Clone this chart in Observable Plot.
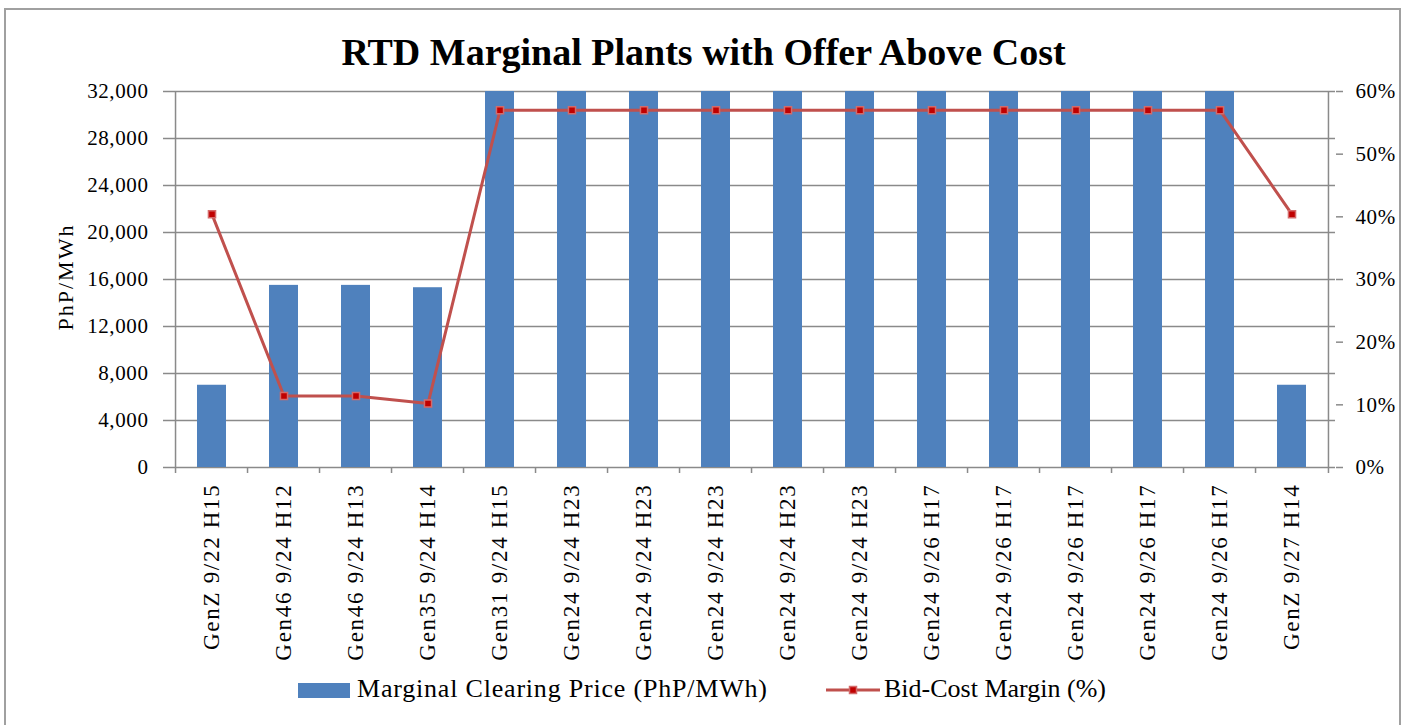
<!DOCTYPE html>
<html>
<head>
<meta charset="utf-8">
<script src="https://cdn.jsdelivr.net/npm/d3@7"></script>
<script src="https://cdn.jsdelivr.net/npm/@observablehq/plot@0.6"></script>
<style>
  body { margin: 0; background: #fff; }
  #wrap { position: relative; width: 1407px; height: 725px; overflow: hidden; font-family: "Liberation Serif", serif; }
  #border { position: absolute; left: 4px; top: 8px; width: 1397px; height: 740px; border: 2px solid #a0a0a0; box-sizing: border-box; }
  #title { position: absolute; left: 0; top: 33px; width: 1407px; text-align: center; font-size: 38px; line-height: 38px; font-weight: bold; color: #000; }
  #ylabel { position: absolute; left: 66px; top: 277px; transform: translate(-50%, -50%) rotate(-90deg); font-size: 22px; letter-spacing: 2px; white-space: nowrap; color: #000; }
  #chart { position: absolute; left: 0; top: 0; }
  .legtext { position: absolute; font-size: 26px; line-height: 26px; white-space: nowrap; color: #000; }
</style>
</head>
<body>
<div id="wrap">
  <div id="border"></div>
  <div id="chart"></div>
  <div id="title">RTD Marginal Plants with Offer Above Cost</div>
  <div id="ylabel">PhP/MWh</div>
  <div id="legend"></div>
</div>
<script>
// ---- data ----
const categories = [
  "GenZ 9/22 H15", "Gen46 9/24 H12", "Gen46 9/24 H13", "Gen35 9/24 H14",
  "Gen31 9/24 H15", "Gen24 9/24 H23", "Gen24 9/24 H23", "Gen24 9/24 H23",
  "Gen24 9/24 H23", "Gen24 9/24 H23", "Gen24 9/26 H17", "Gen24 9/26 H17",
  "Gen24 9/26 H17", "Gen24 9/26 H17", "Gen24 9/26 H17", "GenZ 9/27 H14"
];
const clearingPrice = [7000, 15500, 15500, 15300, 32000, 32000, 32000, 32000, 32000, 32000, 32000, 32000, 32000, 32000, 32000, 7000];
const bidCostMargin = [40.4, 11.4, 11.4, 10.2, 57, 57, 57, 57, 57, 57, 57, 57, 57, 57, 57, 40.4];
const priceTicks = [0, 4000, 8000, 12000, 16000, 20000, 24000, 28000, 32000];
const pctTicks = [0, 10, 20, 30, 40, 50, 60];
const seriesNames = ["Marginal Clearing Price (PhP/MWh)", "Bid-Cost Margin (%)"];

// ---- layout ----
const W = 1407, H = 725, ML = 168, MR = 72, MT = 91, MB = 258;
const yMax = 32000, pctMax = 60;
const plotW = W - ML - MR, plotH = H - MT - MB;
const step = plotW / categories.length;
const tickLen = 6 * yMax / plotH;
const toY = p => p / pctMax * yMax;

const rows = categories.map((c, i) => ({i, label: c, price: clearingPrice[i], margin: bidCostMargin[i]}));
const idx = d3.range(categories.length);
const gridColor = "#8a8a8a";

const chart = Plot.plot({
  width: W, height: H,
  marginLeft: ML, marginRight: MR, marginTop: MT, marginBottom: MB,
  style: {fontFamily: "Liberation Serif", fontSize: "21px", color: "#000", background: "transparent", overflow: "visible"},
  x: {type: "band", domain: idx, paddingInner: 0.6, paddingOuter: 0.3, axis: null},
  y: {domain: [0, yMax], axis: null},
  marks: [
    Plot.ruleY(priceTicks, {stroke: gridColor, strokeWidth: 1.5}),
    Plot.barY(rows, {x: "i", y: "price", fill: "#4F81BD"}),
    // frame sides
    Plot.ruleX([0], {x: d => d, dx: -step / 2, y1: -tickLen, y2: yMax, stroke: gridColor, strokeWidth: 1.5}),
    Plot.ruleX([idx.length - 1], {x: d => d, dx: step / 2, y1: -tickLen, y2: yMax, stroke: gridColor, strokeWidth: 1.5}),
    // category boundary ticks
    Plot.ruleX(idx.slice(1), {x: d => d, dx: -step / 2, y1: 0, y2: -tickLen, stroke: gridColor, strokeWidth: 1.5}),
    Plot.line(rows, {x: "i", y: d => toY(d.margin), stroke: "#C0504D", strokeWidth: 3}),
    Plot.dot(rows, {x: "i", y: d => toY(d.margin), symbol: "square", r: 4, fill: "#C00000", stroke: "#D46A6A", strokeWidth: 1.5}),
    Plot.axisY({anchor: "left", ticks: priceTicks, tickFormat: d3.format(","), tickSize: 5, tickPadding: 15,
      stroke: gridColor, strokeWidth: 1.5, fill: "#000", label: null, fontSize: 21}),
    Plot.axisY({anchor: "right", ticks: pctTicks.map(toY), tickFormat: d => Math.round(d / yMax * pctMax) + "%",
      tickSize: 7, tickPadding: 13, stroke: gridColor, strokeWidth: 1.5, fill: "#000", label: null, fontSize: 21}),
    Plot.axisX({anchor: "bottom", tickRotate: -90, tickSize: 0, tickPadding: 16, tickFormat: i => categories[i],
      label: null, fontSize: 23, fill: "#000"})
  ]
});
d3.select(chart).selectAll("text").style("letter-spacing", "0.6px");
d3.select(chart).selectAll("g[aria-label='x-axis tick label'] text").style("letter-spacing", "1.7px");
document.getElementById("chart").appendChild(chart);

// ---- legend ----
const legend = document.getElementById("legend");
legend.innerHTML = `
  <div style="position:absolute;left:298px;top:683px;width:52px;height:15px;background:#4F81BD"></div>
  <div class="legtext" style="left:357px;top:676px;letter-spacing:0.8px">${seriesNames[0]}</div>
  <svg style="position:absolute;left:825px;top:682px" width="56" height="16">
    <line x1="1" y1="8" x2="55" y2="8" stroke="#C0504D" stroke-width="3"/>
    <rect x="24.5" y="4.5" width="7" height="7" fill="#C00000" stroke="#D46A6A" stroke-width="1.5"/>
  </svg>
  <div class="legtext" style="left:884px;top:676px">${seriesNames[1]}</div>
`;
</script>
</body>
</html>
